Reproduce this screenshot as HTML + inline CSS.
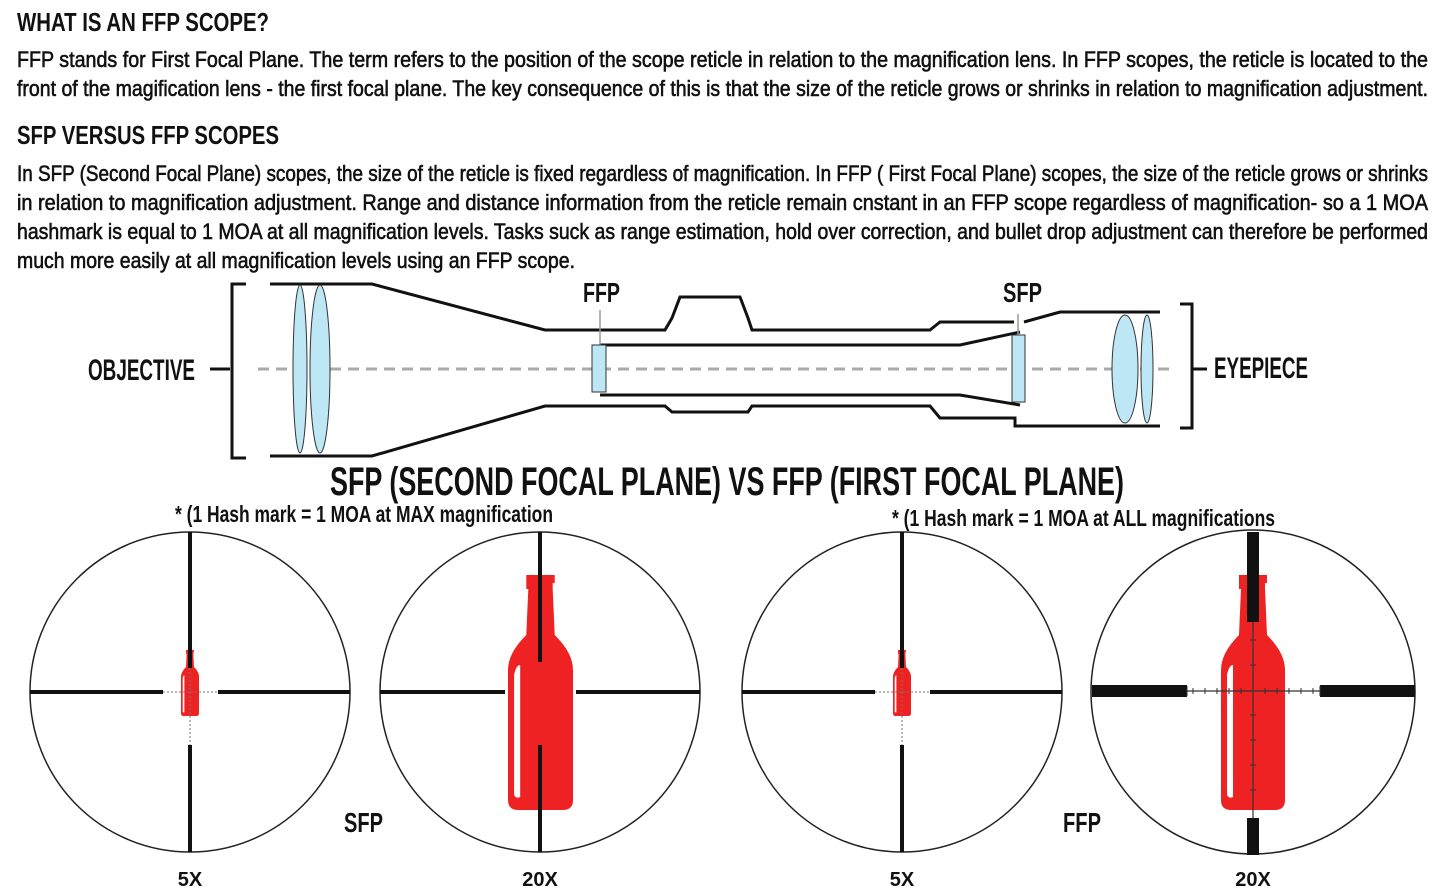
<!DOCTYPE html>
<html><head><meta charset="utf-8"><style>
html,body{margin:0;padding:0;background:#fff;}
svg{display:block;}
text{font-family:"Liberation Sans Narrow","Liberation Sans",sans-serif;font-weight:bold;fill:#111;}
.p{font-weight:normal;font-size:22px;stroke:#111;stroke-width:0.6px;}
</style></head><body>
<svg width="1445" height="894" viewBox="0 0 1445 894" xmlns="http://www.w3.org/2000/svg">
<defs>
<symbol id="bottle" viewBox="0 0 64 235" preserveAspectRatio="none">
<path d="M18,0 H46 V8 H44 V14 L46,60 Q64,78 64,95 V225 Q64,235 54,235 H10 Q0,235 0,225 V95 Q0,78 18,60 L20,14 H18 V8 Z" fill="#ee2222"/>
<path d="M6,100 Q8,90 12,90 V222 Q8,224 6,220 Z" fill="#fff"/>
</symbol>
</defs>
<text x="17" y="31" font-size="26" textLength="252" lengthAdjust="spacingAndGlyphs">WHAT IS AN FFP SCOPE?</text>
<text class="p" x="17" y="67" textLength="1411" lengthAdjust="spacingAndGlyphs">FFP stands for First Focal Plane. The term refers to the position of the scope reticle in relation to the magnification lens. In FFP scopes, the reticle is located to the</text>
<text class="p" x="17" y="96" textLength="1411" lengthAdjust="spacingAndGlyphs">front of the magification lens - the first focal plane. The key consequence of this is that the size of the reticle grows or shrinks in relation to magnification adjustment.</text>
<text x="17" y="144" font-size="26" textLength="262" lengthAdjust="spacingAndGlyphs">SFP VERSUS FFP SCOPES</text>
<text class="p" x="17" y="181" textLength="1411" lengthAdjust="spacingAndGlyphs">In SFP (Second Focal Plane) scopes, the size of the reticle is fixed regardless of magnification. In FFP ( First Focal Plane) scopes, the size of the reticle grows or shrinks</text>
<text class="p" x="17" y="210" textLength="1411" lengthAdjust="spacingAndGlyphs">in relation to magnification adjustment. Range and distance information from the reticle remain cnstant in an FFP scope regardless of magnification- so a 1 MOA</text>
<text class="p" x="17" y="239" textLength="1411" lengthAdjust="spacingAndGlyphs">hashmark is equal to 1 MOA at all magnification levels. Tasks suck as range estimation, hold over correction, and bullet drop adjustment can therefore be performed</text>
<text class="p" x="17" y="268" textLength="558" lengthAdjust="spacingAndGlyphs">much more easily at all magnification levels using an FFP scope.</text>

<!-- scope -->
<g fill="none" stroke="#111" stroke-width="3">
<path d="M246,284 H232 V458 H246"/>
<path d="M270,284 H372 L545,330 H665 L672,318 L680,297 H740 L748,318 L752,330 H930 L940,322 H1014 M1024,322 L1060,312 H1160"/>
<path d="M270,456 H372 L545,406 H665 L672,412 H748 L752,406 H930 L940,418 H1015 V426 H1160"/>
<path d="M600,345 H960 L1020,332 M600,395 H960 L1020,405"/>
<path d="M1180,304 H1192 V428 H1180"/>
<path d="M210,369 H230 M1193,369 H1207"/>
</g>
<line x1="258" y1="369" x2="1175" y2="369" stroke="#aaa" stroke-width="3" stroke-dasharray="11,7"/>
<line x1="600" y1="310" x2="600" y2="345" stroke="#999" stroke-width="1.5"/>
<line x1="1018" y1="314" x2="1018" y2="336" stroke="#999" stroke-width="1.5"/>
<g fill="#bde7f5" stroke="#333" stroke-width="1">
<ellipse cx="300" cy="369" rx="7" ry="84"/>
<ellipse cx="320" cy="369" rx="10" ry="84"/>
<ellipse cx="1125" cy="369" rx="13" ry="54"/>
<ellipse cx="1147" cy="369" rx="6" ry="54"/>
<rect x="592" y="345" width="14" height="47"/>
<rect x="1012" y="335" width="13" height="67"/>
</g>
<text x="88" y="380" font-size="30" textLength="107" lengthAdjust="spacingAndGlyphs">OBJECTIVE</text>
<text x="1214" y="378" font-size="30" textLength="94" lengthAdjust="spacingAndGlyphs">EYEPIECE</text>
<text x="583" y="302" font-size="28" textLength="37" lengthAdjust="spacingAndGlyphs">FFP</text>
<text x="1003" y="302" font-size="28" textLength="39" lengthAdjust="spacingAndGlyphs">SFP</text>

<text x="330" y="495" font-size="40" textLength="794" lengthAdjust="spacingAndGlyphs">SFP (SECOND FOCAL PLANE) VS FFP (FIRST FOCAL PLANE)</text>
<text x="175" y="522" font-size="23" textLength="378" lengthAdjust="spacingAndGlyphs">* (1 Hash mark = 1 MOA at MAX magnification</text>
<text x="892" y="526" font-size="23" textLength="383" lengthAdjust="spacingAndGlyphs">* (1 Hash mark = 1 MOA at ALL magnifications</text>

<!-- reticles -->
<g fill="none" stroke="#222" stroke-width="1.5">
<circle cx="190" cy="692" r="160"/>
<circle cx="540" cy="692" r="160"/>
<circle cx="902" cy="692" r="160"/>
<circle cx="1253" cy="692" r="162"/>
</g>
<use href="#bottle" x="181" y="650" width="18" height="66"/>
<g stroke="#111" stroke-width="4">
<path d="M30,692 H163 M218,692 H350 M190,532 V668 M190,745 V852"/>
</g>
<g stroke="#777" stroke-width="1" stroke-dasharray="2,2"><path d="M163,692 H218 M190,668 V745"/></g>
<use href="#bottle" x="508" y="575" width="65" height="235"/>
<g stroke="#111" stroke-width="4">
<path d="M380,692 H505 M576,692 H700 M540,532 V662 M540,745 V852"/>
</g>
<use href="#bottle" x="893" y="650" width="18" height="66"/>
<g stroke="#111" stroke-width="4">
<path d="M742,692 H875 M930,692 H1062 M902,532 V668 M902,745 V852"/>
</g>
<g stroke="#777" stroke-width="1" stroke-dasharray="2,2"><path d="M875,692 H930 M902,668 V745"/></g>
<use href="#bottle" x="1221" y="575" width="64" height="235"/>
<g stroke="#111" stroke-width="12">
<path d="M1092,691 H1187 M1320,691 H1415 M1253,532 V622 M1253,818 V855"/>
</g>
<g stroke="#333" stroke-width="1.2"><path d="M1187,691 H1320 M1253,622 V818"/></g>
<g stroke="#333" stroke-width="1">
<path d="M1187,686 V696 M1320,686 V696 M1193,688 V694 M1205,688 V694 M1217,688 V694 M1229,688 V694 M1241,688 V694 M1265,688 V694 M1277,688 V694 M1289,688 V694 M1301,688 V694 M1313,688 V694 M1250,640 H1256 M1250,665 H1256 M1250,715 H1256 M1250,740 H1256 M1250,765 H1256 M1250,790 H1256"/>
</g>

<text x="344" y="832" font-size="28" textLength="39" lengthAdjust="spacingAndGlyphs">SFP</text>
<text x="1063" y="832" font-size="28" textLength="38" lengthAdjust="spacingAndGlyphs">FFP</text>
<text x="190" y="886" font-size="20" text-anchor="middle">5X</text>
<text x="540" y="886" font-size="20" text-anchor="middle">20X</text>
<text x="902" y="886" font-size="20" text-anchor="middle">5X</text>
<text x="1253" y="886" font-size="20" text-anchor="middle">20X</text>
</svg>
</body></html>
